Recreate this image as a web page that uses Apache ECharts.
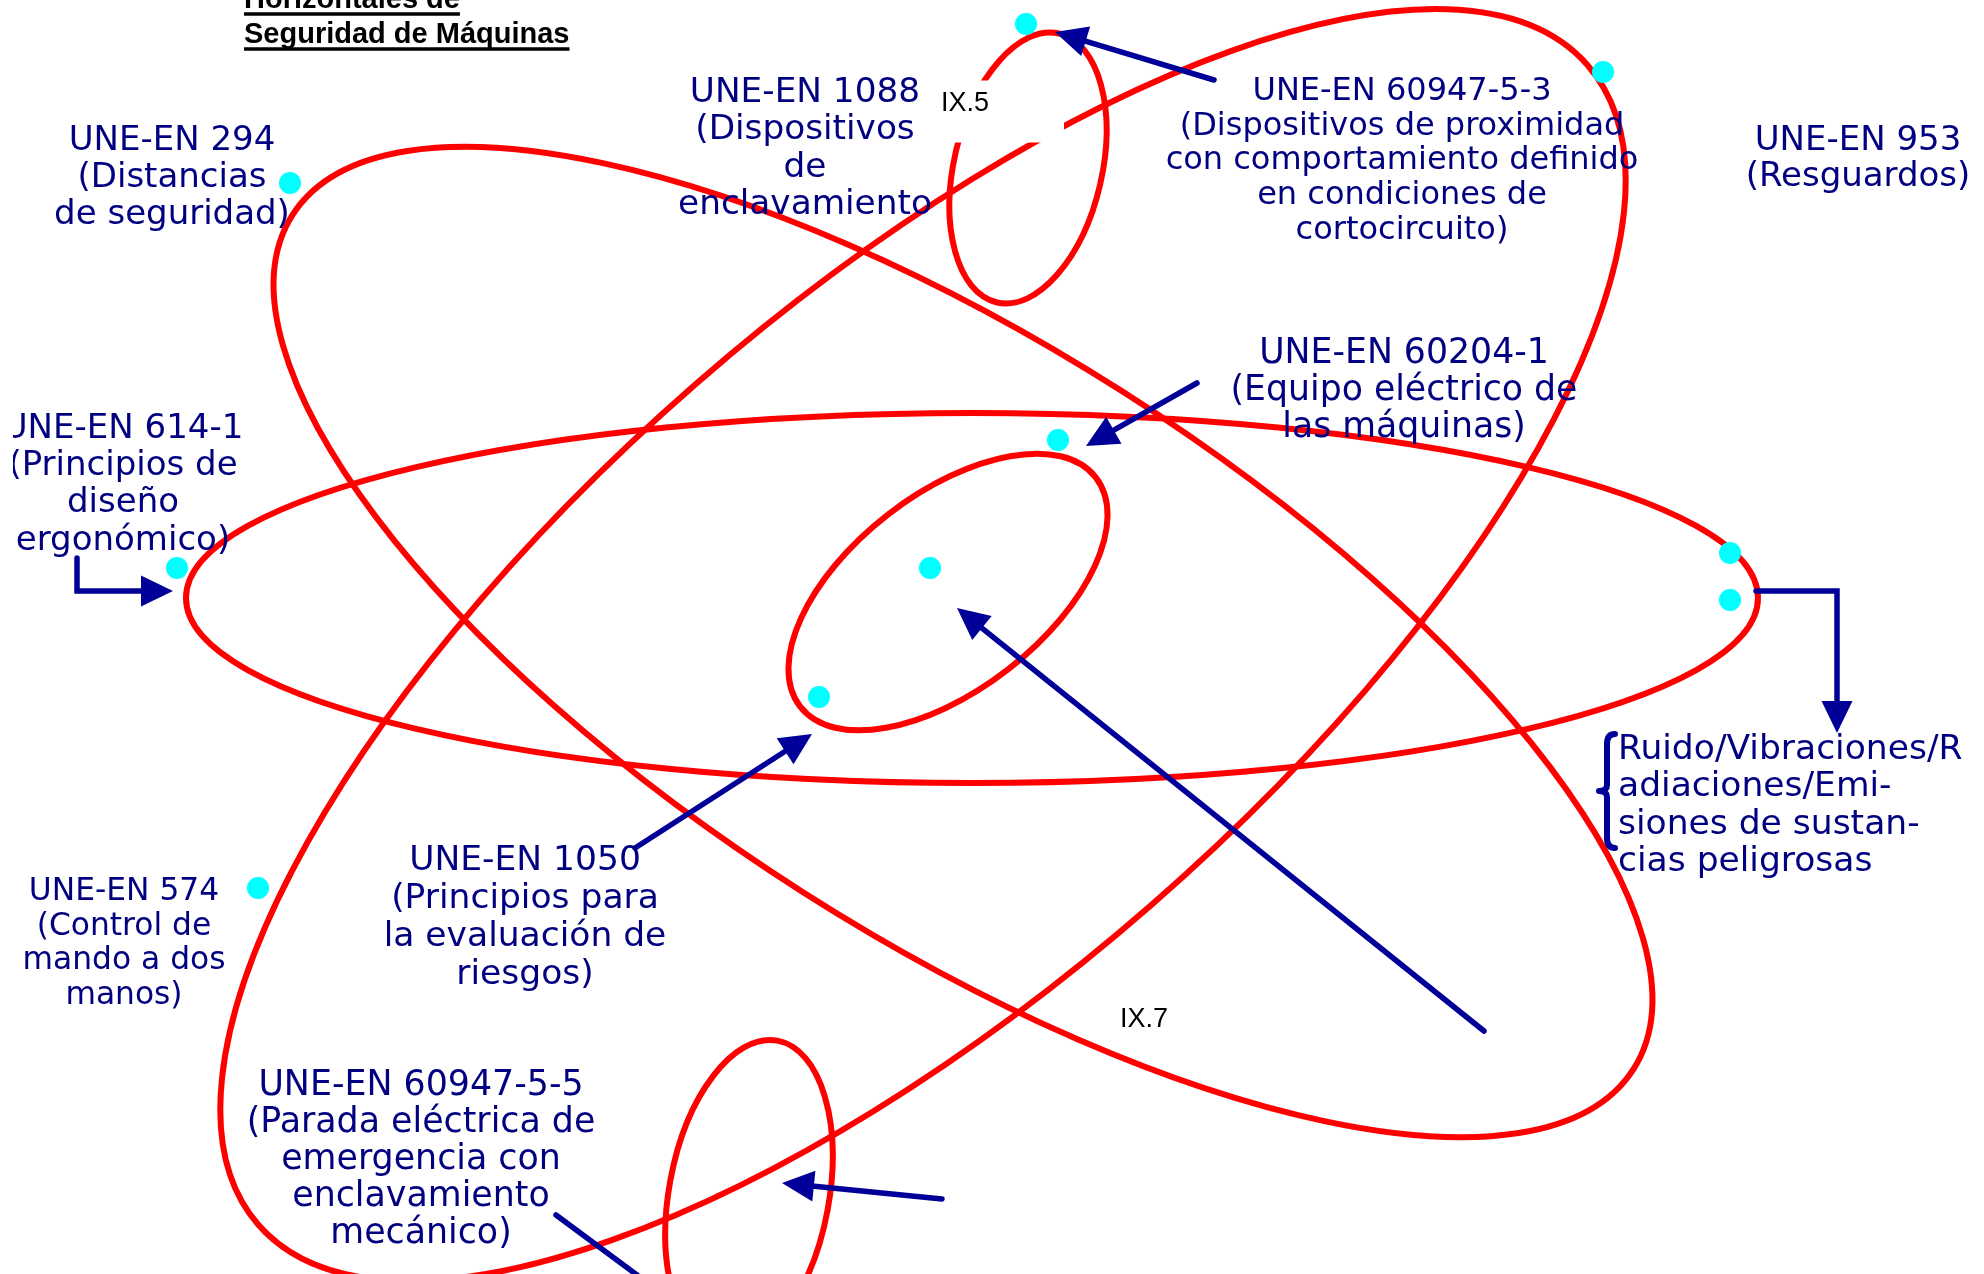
<!DOCTYPE html>
<html>
<head>
<meta charset="utf-8">
<script src="https://cdn.jsdelivr.net/npm/echarts@6.0.0/dist/echarts.min.js"></script>
<style>
html,body{margin:0;padding:0;background:#ffffff;}
#chart{width:1984px;height:1274px;}
</style>
</head>
<body>
<div id="chart"></div>
<script>
// ---------- DATA (diagram coordinates in axis units) ----------
// Red orbit ellipses: centre, semi-axes, tilt (degrees, counter-clockwise)
const ellipseCx   = [972, 948, 1028, 923, 749, 963];
const ellipseCy   = [598, 592, 168, 645, 1195, 642];
const ellipseRx   = [786, 187, 138, 882, 157, 795];
const ellipseRy   = [185, 98, 74, 346, 80, 297];
const ellipseTilt = [0, 37.8, 77, 41.1, 79.6, -32.5];

// Cyan dots
const dotX = [1026, 1603, 290, 1058, 930, 819, 177, 1730, 1730, 258];
const dotY = [24, 72, 183, 440, 568, 697, 568, 553, 600, 888];

// Blue arrows: polyline points, last point is the tip
const arrowPaths = [
  [[1214, 80], [1055, 32]],
  [[1197, 383], [1086, 446]],
  [[1484, 1031], [957, 608]],
  [[635, 848], [812, 734]],
  [[942, 1199], [782, 1183]],
  [[77, 558], [77, 591], [173, 591]],
  [[1756, 591], [1837, 591], [1837, 733]],
  [[556, 1215], [660, 1292]]
];
const arrowHasHead = [true, true, true, true, true, true, true, false];

// Brace
const braceX = [1607];
const braceTop = [734];
const braceBottom = [848];

// Labels
const labelTexts = [
  'UNE-EN 294\n(Distancias\nde seguridad)',
  'UNE-EN 1088\n(Dispositivos\nde\nenclavamiento',
  'UNE-EN 60947-5-3\n(Dispositivos de proximidad\ncon comportamiento definido\nen condiciones de\ncortocircuito)',
  'UNE-EN 953\n(Resguardos)',
  'UNE-EN 60204-1\n(Equipo eléctrico de\nlas máquinas)',
  'UNE-EN 574\n(Control de\nmando a dos\nmanos)',
  'UNE-EN 1050\n(Principios para\nla evaluación de\nriesgos)',
  'UNE-EN 60947-5-5\n(Parada eléctrica de\nemergencia con\nenclavamiento\nmecánico)',
  'Ruido/Vibraciones/R\nadiaciones/Emi-\nsiones de sustan-\ncias peligrosas'
];
const labelX = [172, 805, 1402, 1858, 1404, 124, 525, 421, 1618];
const labelY = [178, 149, 161, 159, 391, 944, 918, 1160, 806];

// Label clipped at the left edge
const clippedText = ['UNE-EN 614-1\n(Principios de\ndiseño\nergonómico)'];
const clippedX = [123];
const clippedY = [485];

// Small reference marks
const markTexts = ['IX.5', 'IX.7'];
const markX = [965, 1144];
const markY = [104, 1020];
const markBoxed = [true, false];

// Title
const titleLines = ['Horizontales de', 'Seguridad de Máquinas'];
const titleX = [244, 244];
const titleY = [0, 35];

// ---------- STYLE ----------
const W = 1984, H = 1274;
const RED = '#ff0000';
const NAVY = '#000099';
const NAVY_TEXT = '#000080';
const CYAN = '#00ffff';
const labelSize = [34, 34.3, 32, 34, 34.7, 31.3, 34.5, 34.8, 34.5];
const labelLH   = [37, 37.5, 34.7, 36.5, 37, 34.7, 37.7, 37, 37.3];
const labelAlign = ['center','center','center','center','center','center','center','center','left'];
const HEAD_LEN = 32, HEAD_W = 15.5;
const LABEL_FONT = '"DejaVu Sans", Verdana, sans-serif';
const MARK_FONT = '"Liberation Sans", Arial, sans-serif';
const MARK_SIZE = 27;

const measureCtx = document.createElement('canvas').getContext('2d');
function textWidth(str, font) { measureCtx.font = font; return measureCtx.measureText(str).width; }

function textStyle(text, size, lh, align, vAlign, fill, family, weight, extra) {
  const s = {
    text: text, fill: fill,
    font: (weight ? weight + ' ' : '') + size + 'px ' + family,
    fontSize: size, fontFamily: family, fontWeight: weight || 'normal',
    align: align, textAlign: align,
    verticalAlign: vAlign, textVerticalAlign: vAlign,
    lineHeight: lh, textLineHeight: lh
  };
  if (extra) Object.assign(s, extra);
  return s;
}

const chart = echarts.init(document.getElementById('chart'), null, {renderer: 'canvas'});

const option = {
  animation: false,
  backgroundColor: '#ffffff',
  grid: [
    {left: 0, right: 0, top: 0, bottom: 0},
    {left: 13, right: 0, top: 0, bottom: 0}
  ],
  xAxis: [
    {type: 'value', min: 0, max: W, show: false, gridIndex: 0},
    {type: 'value', min: 13, max: W, show: false, gridIndex: 1}
  ],
  yAxis: [
    {type: 'value', min: 0, max: H, inverse: true, show: false, gridIndex: 0},
    {type: 'value', min: 0, max: H, inverse: true, show: false, gridIndex: 1}
  ],
  series: [
    {
      name: 'ellipses', type: 'custom', xAxisIndex: 0, yAxisIndex: 0, z: 1, silent: true,
      data: ellipseCx.map((cx, i) => [cx, ellipseCy[i], ellipseRx[i], ellipseRy[i], ellipseTilt[i]]),
      renderItem: function (params, api) {
        const c = api.coord([api.value(0), api.value(1)]);
        const s = api.size([api.value(2), api.value(3)]);
        return {
          type: 'ellipse', x: c[0], y: c[1],
          rotation: api.value(4) * Math.PI / 180,
          shape: {cx: 0, cy: 0, rx: s[0], ry: s[1]},
          style: {fill: 'none', stroke: RED, lineWidth: 6}
        };
      }
    },
    {
      name: 'marks', type: 'custom', xAxisIndex: 0, yAxisIndex: 0, z: 2, silent: true,
      data: markX.map((x, i) => [x, markY[i], i]),
      renderItem: function (params, api) {
        const c = api.coord([api.value(0), api.value(1)]);
        const i = api.value(2);
        const font = MARK_SIZE + 'px ' + MARK_FONT;
        const w = textWidth(markTexts[i], font);
        if (markBoxed[i]) {
          const padL = 5, padT = 10, padB = 25;
          const padR = Math.max(0, 99 - w / 2);
          return {
            type: 'text', x: c[0] - w / 2 - padL, y: c[1] - MARK_SIZE / 2 - padT,
            style: textStyle(markTexts[i], MARK_SIZE, MARK_SIZE, 'left', 'top', '#000000', MARK_FONT, null, {
              backgroundColor: '#ffffff', textBackgroundColor: '#ffffff',
              padding: [padT, padR, padB, padL], textPadding: [padT, padR, padB, padL]
            })
          };
        }
        return {
          type: 'text', x: c[0], y: c[1],
          style: textStyle(markTexts[i], MARK_SIZE, MARK_SIZE, 'center', 'middle', '#000000', MARK_FONT)
        };
      }
    },
    {
      name: 'arrows', type: 'custom', xAxisIndex: 0, yAxisIndex: 0, z: 3, silent: true,
      data: arrowPaths.map((p, i) => [i]),
      renderItem: function (params, api) {
        const i = params.dataIndex;
        const pts = arrowPaths[i].map(p => api.coord(p));
        const linePts = pts.slice();
        const children = [];
        if (arrowHasHead[i]) {
          const n = pts.length;
          const tip = pts[n - 1], prev = pts[n - 2];
          const dx = tip[0] - prev[0], dy = tip[1] - prev[1];
          const len = Math.hypot(dx, dy);
          const ux = dx / len, uy = dy / len;
          const bx = tip[0] - ux * HEAD_LEN, by = tip[1] - uy * HEAD_LEN;
          linePts[n - 1] = [bx + ux * 2, by + uy * 2];
          children.push({
            type: 'polygon',
            shape: {points: [tip, [bx - uy * HEAD_W, by + ux * HEAD_W], [bx + uy * HEAD_W, by - ux * HEAD_W]]},
            style: {fill: NAVY, stroke: 'none'}
          });
        }
        children.unshift({
          type: 'polyline', shape: {points: linePts},
          style: {fill: 'none', stroke: NAVY, lineWidth: 5.5, lineJoin: 'miter', lineCap: 'round'}
        });
        return {type: 'group', children: children};
      }
    },
    {
      name: 'brace', type: 'custom', xAxisIndex: 0, yAxisIndex: 0, z: 3, silent: true,
      data: braceX.map((x, i) => [x, braceTop[i], braceBottom[i]]),
      renderItem: function (params, api) {
        const top = api.coord([api.value(0), api.value(1)]);
        const bot = api.coord([api.value(0), api.value(2)]);
        const x = top[0], t = top[1], b = bot[1], m = (t + b) / 2;
        const d = 'M' + (x + 8) + ',' + t +
          ' Q' + x + ',' + t + ' ' + x + ',' + (t + 10) +
          ' L' + x + ',' + (m - 6) +
          ' Q' + x + ',' + m + ' ' + (x - 8) + ',' + m +
          ' Q' + x + ',' + m + ' ' + x + ',' + (m + 6) +
          ' L' + x + ',' + (b - 10) +
          ' Q' + x + ',' + b + ' ' + (x + 8) + ',' + b;
        return {
          type: 'path', shape: {pathData: d},
          style: {fill: 'none', stroke: NAVY, lineWidth: 6, lineCap: 'round', lineJoin: 'round'}
        };
      }
    },
    {
      name: 'dots', type: 'scatter', xAxisIndex: 0, yAxisIndex: 0, z: 4, silent: true,
      symbol: 'circle', symbolSize: 22,
      itemStyle: {color: CYAN, opacity: 1},
      data: dotX.map((x, i) => [x, dotY[i]])
    },
    {
      name: 'labels', type: 'custom', xAxisIndex: 0, yAxisIndex: 0, z: 5, silent: true,
      data: labelX.map((x, i) => [x, labelY[i], i]),
      renderItem: function (params, api) {
        const c = api.coord([api.value(0), api.value(1)]);
        const i = api.value(2);
        return {
          type: 'text', x: c[0], y: c[1],
          style: textStyle(labelTexts[i], labelSize[i], labelLH[i], labelAlign[i], 'middle', NAVY_TEXT, LABEL_FONT)
        };
      }
    },
    {
      name: 'clippedLabel', type: 'custom', xAxisIndex: 1, yAxisIndex: 1, z: 5, silent: true, clip: true,
      data: clippedX.map((x, i) => [x, clippedY[i], i]),
      renderItem: function (params, api) {
        const c = api.coord([api.value(0), api.value(1)]);
        const i = api.value(2);
        return {
          type: 'text', x: c[0], y: c[1],
          style: textStyle(clippedText[i], 34, 37.3, 'center', 'middle', NAVY_TEXT, LABEL_FONT)
        };
      }
    },
    {
      name: 'title', type: 'custom', xAxisIndex: 0, yAxisIndex: 0, z: 5, silent: true,
      data: titleX.map((x, i) => [x, titleY[i], i]),
      renderItem: function (params, api) {
        const c = api.coord([api.value(0), api.value(1)]);
        const i = api.value(2);
        const fam = '"Liberation Sans", Arial, sans-serif';
        const w = textWidth(titleLines[i], 'bold 29px ' + fam);
        return {
          type: 'group',
          children: [
            {type: 'text', x: c[0], y: c[1],
             style: textStyle(titleLines[i], 29, 29, 'left', 'middle', '#000000', fam, 'bold')},
            {type: 'line', shape: {x1: c[0], y1: c[1] + 14, x2: c[0] + w, y2: c[1] + 14},
             style: {stroke: '#000000', lineWidth: 3.5}}
          ]
        };
      }
    }
  ]
};
chart.setOption(option);
</script>
</body>
</html>
